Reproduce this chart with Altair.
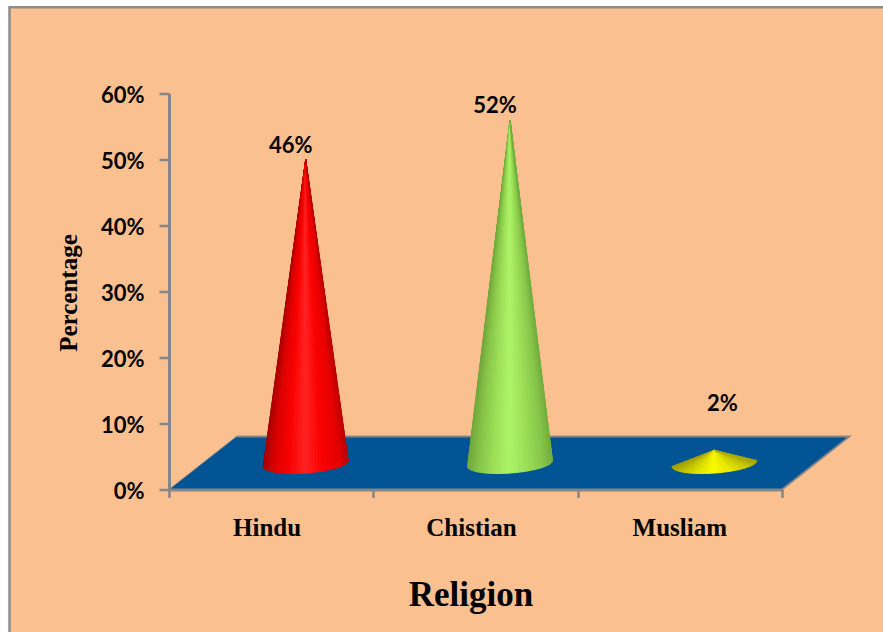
import altair as alt
import numpy as np
import pandas as pd

# Survey shares by religion, in percent
categories = ["Hindu", "Chistian", "Musliam"]
values = [46, 52, 2]
value_labels = ["46%", "52%", "2%"]
category_label_x = [0.48, 1.48, 2.50]

# Cone shading from left rim to right rim, one list of RGB stops per category
shade_positions = [-1.0, -0.75, -0.4, 0.0, 0.4, 0.8, 1.0]
shades = {
    "Hindu": ["#a80000", "#dc0000", "#fa0000", "#ff2424", "#fb0000", "#e60000", "#c00000"],
    "Chistian": ["#6fa63a", "#86c448", "#9cdf58", "#aef56a", "#9ce058", "#86c64a", "#76ae3e"],
    "Musliam": ["#a0a000", "#c4c400", "#e4e400", "#fbfb00", "#e8e800", "#c8c800", "#a8a800"],
}

# Perspective of the 3-D floor, in axis units
DEPTH_X = 0.33
DEPTH_Y = 8.03
CONE_BASE_Y = 3.94
CONE_CENTER_SHIFT = 0.169
CONE_HALF_WIDTH = 0.208
RIM_DEPTH = 1.45
RIM_TILT = 0.45
SECTORS = 20

X_SCALE = alt.Scale(domain=[0, 3], nice=False, zero=False)
Y_SCALE = alt.Scale(domain=[0, 60], nice=False)
GREY = "#868686"
LABEL_FONT = "Lato"
TITLE_FONT = "Liberation Serif"


def hex_rgb(code):
    return [int(code[i:i + 2], 16) for i in (1, 3, 5)]


def shade_at(name, f):
    rgb = np.array([hex_rgb(c) for c in shades[name]], dtype=float)
    parts = [int(round(np.interp(f, shade_positions, rgb[:, k]))) for k in range(3)]
    return "#{:02x}{:02x}{:02x}".format(*parts)


def rim(f):
    return CONE_BASE_Y + RIM_TILT * f - RIM_DEPTH * np.sqrt(max(0.0, 1 - f * f))


def cone_rows(index, name, value):
    # Fan of thin triangles from the apex to the base rim, which gives conical shading
    center = index + 0.5 + CONE_CENTER_SHIFT
    apex = CONE_BASE_Y + value
    rows = []
    fan = np.concatenate([
        -np.cos(np.linspace(0, np.pi / 2, SECTORS + 1)),
        np.sin(np.linspace(0, np.pi / 2, SECTORS + 1))[1:],
    ])
    for i in range(len(fan) - 1):
        f0, f1 = float(fan[i]), float(fan[i + 1])
        y0, y1 = rim(f0), rim(f1)
        shade = shade_at(name, (f0 + f1) / 2)
        if f1 <= 1e-9:
            # Left half: outer edge first, the apex last
            inner = apex + (y0 - apex) * (f1 / f0)
            tri = [(f0, y0, y0), (f1, inner, y1), (0.0, apex, apex)]
        else:
            # Right half: the apex first, outer edge last
            inner = apex + (y1 - apex) * (f0 / f1)
            tri = [(0.0, apex, apex), (f0, inner, y0), (f1, y1, y1)]
        for f, top, bottom in tri:
            rows.append({
                "x": center + CONE_HALF_WIDTH * f,
                "top": top,
                "bottom": bottom,
                "sector": f"{name}-{i:02d}",
                "shade": shade,
            })
    return rows


x_plain = alt.X("x:Q", scale=X_SCALE)
y_plain = alt.Y("top:Q", scale=Y_SCALE)

# Page panel behind the chart; only its top and left edges fall on the canvas
panel = alt.Chart(pd.DataFrame({"k": [0]})).mark_rect(
    fill="#FBC08F", stroke="#8c8c8c", strokeWidth=2.5
).encode(
    x=alt.value(-159.5), x2=alt.value(760),
    y=alt.value(-86.3), y2=alt.value(600),
)

# Floor of the 3-D plot
floor_df = pd.DataFrame({
    "x": [0, DEPTH_X, 3, 3 + DEPTH_X],
    "top": [0, DEPTH_Y, DEPTH_Y, DEPTH_Y],
    "bottom": [0, 0, 0, DEPTH_Y],
})
floor = alt.Chart(floor_df).mark_area(color="#005494", orient="vertical").encode(
    x=x_plain, y=y_plain, y2="bottom:Q"
)

# Grey rim along the floor's back and right edges
edge_df = pd.DataFrame({
    "x": [DEPTH_X, 3 + DEPTH_X, 3],
    "top": [DEPTH_Y, DEPTH_Y, 0],
    "step": [0, 1, 2],
})
edge = alt.Chart(edge_df).mark_line(color=GREY, strokeWidth=1.8).encode(
    x=x_plain, y=y_plain, order="step:Q"
)
slant_df = pd.DataFrame({"x": [0, DEPTH_X], "top": [0, DEPTH_Y]})
slant = alt.Chart(slant_df).mark_line(color=GREY, strokeWidth=1, opacity=0.6).encode(
    x=x_plain, y=y_plain
)

# Invisible layer that declares both axes
axes_df = pd.DataFrame({"x": [0], "top": [0]})
axes = alt.Chart(axes_df).mark_point(opacity=0).encode(
    x=alt.X(
        "x:Q", scale=X_SCALE,
        axis=alt.Axis(
            values=[0, 1, 2, 3], labels=False, grid=False, zindex=1,
            domainColor=GREY, domainWidth=3, tickColor=GREY, tickWidth=2.5, tickSize=8,
            title="Religion", titleFont=TITLE_FONT, titleFontSize=35, titleFontWeight="bold",
            titleColor="#000000", titleX=301.5, titleY=105, titleBaseline="middle",
            titleAlign="center",
        ),
    ),
    y=alt.Y(
        "top:Q", scale=Y_SCALE,
        axis=alt.Axis(
            values=[0, 10, 20, 30, 40, 50, 60], labelExpr="datum.value + '%'", grid=False,
            zindex=1, domainColor=GREY, domainWidth=3, tickColor=GREY, tickWidth=2.5,
            tickSize=10, labelFont=LABEL_FONT, labelFontSize=22, labelFontWeight="bold",
            labelColor="#000000", labelPadding=15, labelOffset=1.5,
            title="Percentage", titleFont=TITLE_FONT, titleFontSize=25, titleFontWeight="bold",
            titleColor="#000000", titleAngle=270, titleX=-101, titleY=199,
            titleBaseline="middle", titleAlign="center",
        ),
    ),
)

# Cones
cone_df = pd.DataFrame(
    [r for i, (n, v) in enumerate(zip(categories, values)) for r in cone_rows(i, n, v)]
)
cones = alt.Chart(cone_df).mark_area(orient="vertical", strokeWidth=0.9).encode(
    x=x_plain,
    y=y_plain,
    y2="bottom:Q",
    fill=alt.Fill("shade:N", scale=None, legend=None),
    stroke=alt.Stroke("shade:N", scale=None, legend=None),
    detail="sector:N",
)

# Category names below the axis
cat_df = pd.DataFrame({"x": category_label_x, "name": categories})
cat_text = alt.Chart(cat_df).mark_text(
    font=TITLE_FONT, fontSize=25, fontWeight="bold", color="#000000", baseline="middle"
).encode(x=x_plain, y=alt.value(434), text="name:N")

# Percent labels over each cone
label_df = pd.DataFrame({
    "x": [i + 0.5 + CONE_CENTER_SHIFT for i in range(3)],
    "top": [v + CONE_BASE_Y for v in values],
    "text": value_labels,
    "shift_x": [-15, -15, 8],
    "shift_y": [-14, -14, -46],
})
labels = alt.layer(*[
    alt.Chart(label_df[label_df["text"] == row.text]).mark_text(
        font=LABEL_FONT, fontSize=22, fontWeight="bold", color="#000000", baseline="middle",
        dx=row.shift_x, dy=row.shift_y,
    ).encode(x=x_plain, y=y_plain, text="text:N")
    for row in label_df.itertuples()
])

chart = alt.layer(
    panel, axes, floor, edge, slant, cones, cat_text, labels
).properties(
    width=613,
    height=396,
    padding={"left": 169, "top": 93.5, "right": 101, "bottom": 142.5},
    autosize=alt.AutoSizeParams(type="none"),
    background="#ffffff",
).configure_view(stroke=None)

chart.save("out.html", embed_options={"renderer": "svg", "actions": False})
